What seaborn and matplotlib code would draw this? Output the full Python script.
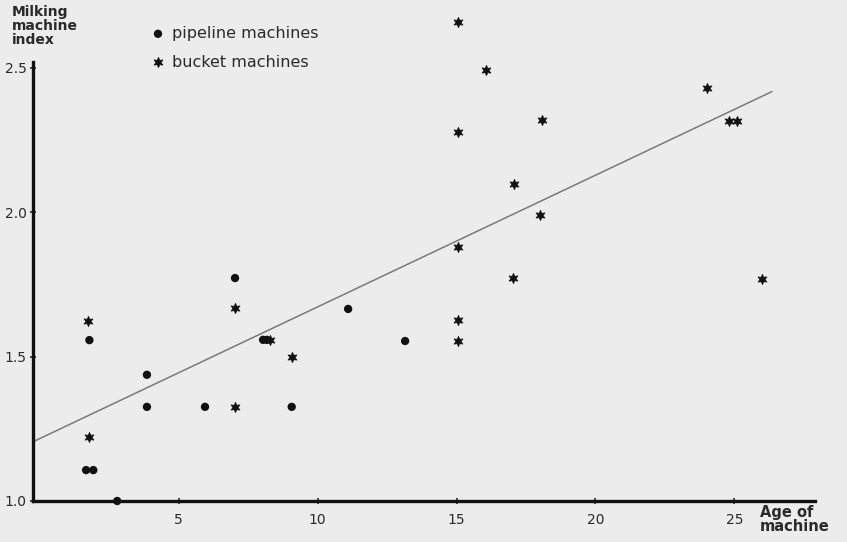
import numpy as np
import pandas as pd
import seaborn as sns
import matplotlib.pyplot as plt

# Data
pipeline_age = [1.79, 1.67, 1.93, 2.79, 3.86, 3.86, 5.95, 7.03, 8.04, 8.18, 9.07, 11.1, 13.15]
pipeline_index = [1.557, 1.107, 1.107, 1.0, 1.437, 1.326, 1.326, 1.772, 1.558, 1.558, 1.326, 1.665, 1.554]

bucket_age = [1.75, 1.79, 7.03, 7.03, 8.29, 9.07, 15.07, 15.07, 15.07, 15.07, 15.07,
              16.05, 17.08, 17.03, 18.07, 18.0, 24.0, 24.79, 25.11, 26.0]
bucket_index = [1.623, 1.223, 1.667, 1.326, 1.558, 1.50, 2.66, 2.277, 1.879, 1.627, 1.554,
                2.493, 2.097, 1.771, 2.32, 1.99, 2.43, 2.317, 2.317, 1.768]

# fitted line (intercept, slope) and its drawn extent
fit_intercept = 1.216
fit_slope = 0.0456
fit_x = np.array([-0.24, 26.35])

x_ticks = [5, 10, 15, 20, 25]
y_ticks = [1.0, 1.5, 2.0, 2.5]
y_tick_labels = ['1.0', '1.5', '2.0', '2.5']

pipe = pd.DataFrame({'age': pipeline_age, 'index': pipeline_index})
bucket = pd.DataFrame({'age': bucket_age, 'index': bucket_index})

sns.set_style('ticks')
plt.rcParams['font.family'] = ['DejaVu Sans']
bg = '#ececec'
ink = '#2a2a2a'

fig = plt.figure(figsize=(8.47, 5.42), dpi=100, facecolor=bg)
ax = fig.add_axes([33 / 847, 1 - 501 / 542, (815 - 33) / 847, (501 - 62) / 542])
ax.set_facecolor(bg)

sns.lineplot(x=fit_x, y=fit_intercept + fit_slope * fit_x, ax=ax, color='#7a7a7a', lw=1.1)

sns.scatterplot(data=pipe, x='age', y='index', marker='o', s=36, color='#111111',
                edgecolor='none', ax=ax, clip_on=False, zorder=3, label='pipeline machines')
sns.scatterplot(data=bucket, x='age', y='index', marker=(6, 1, 0), s=55, color='#111111',
                edgecolor='#111111', linewidth=0.5, ax=ax, clip_on=False, zorder=3,
                label='bucket machines')

ax.set_xlim(-0.24, 27.9)
ax.set_ylim(1.0, 2.52)
ax.set_xticks(x_ticks)
ax.set_yticks(y_ticks)
ax.set_yticklabels(y_tick_labels)
ax.set_xlabel('')
ax.set_ylabel('')
ax.tick_params(axis='both', direction='inout', length=5, width=1.2, colors=ink,
               labelsize=10, pad=2)
ax.tick_params(axis='x', pad=6)
for side in ['top', 'right']:
    ax.spines[side].set_visible(False)
for side in ['left', 'bottom']:
    ax.spines[side].set_linewidth(2.4)
    ax.spines[side].set_color('#111111')

fig.text(12 / 847, 1 - 5 / 542, 'Milking\nmachine\nindex', ha='left', va='top',
         fontsize=10, color=ink, linespacing=1.0, fontweight='bold')
fig.text(760 / 847, 1 - 505 / 542, 'Age of\nmachine', ha='left', va='top',
         fontsize=10.5, color=ink, linespacing=0.95, fontweight='bold')

ax.legend(loc='upper left', bbox_to_anchor=(150 / 847, 1 - 26 / 542),
          bbox_transform=fig.transFigure, frameon=False, fontsize=11.5,
          handlelength=1.0, handletextpad=0.4, labelspacing=0.85,
          borderpad=0, borderaxespad=0, labelcolor=ink)

fig.savefig('out.png', dpi=100, facecolor=bg)
